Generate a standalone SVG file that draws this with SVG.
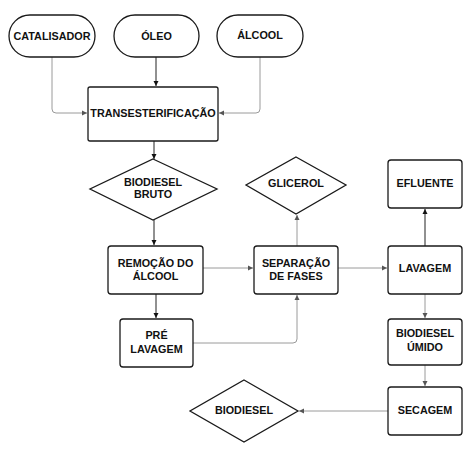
<svg xmlns="http://www.w3.org/2000/svg" width="472" height="451" viewBox="0 0 472 451">
<defs>
<marker id="ag" markerWidth="6" markerHeight="6" refX="5" refY="3" orient="auto" markerUnits="userSpaceOnUse"><path d="M0,0.5 L5,3 L0,5.5 Z" fill="#555"/></marker>
<marker id="ak" markerWidth="6" markerHeight="6" refX="5" refY="3" orient="auto" markerUnits="userSpaceOnUse"><path d="M0,0.5 L5,3 L0,5.5 Z" fill="#111"/></marker>
</defs>
<style>
.n{fill:#fff;stroke:#1a1a1a;stroke-width:1.3}
.t{font-family:"Liberation Sans",Arial,sans-serif;font-weight:bold;font-size:10.8px;fill:#111;text-anchor:middle}
.cg{fill:none;stroke:#9a9a9a;stroke-width:1;marker-end:url(#ag)}
.ck{fill:none;stroke:#222;stroke-width:1;marker-end:url(#ak)}
</style>
<rect width="472" height="451" fill="#fff"/>
<g id="connectors">
<path class="cg" d="M52,57 V109 Q52,113 56,113 H87"/>
<path class="ck" d="M156,57 V86"/>
<path class="cg" d="M260,57 V109 Q260,113 256,113 H219"/>
<path class="ck" d="M154,141 V159"/>
<path class="ck" d="M154,220 V245"/>
<path class="ck" d="M156,294 V318"/>
<path class="cg" d="M203,268 H253"/>
<path class="cg" d="M297,246 V215"/>
<path class="cg" d="M193,343 H293 Q297,343 297,339 V295"/>
<path class="cg" d="M338,268 H387"/>
<path class="ck" d="M425,246 V209"/>
<path class="cg" d="M425,294 V318"/>
<path class="cg" d="M425,365 V386"/>
<path class="cg" d="M388,411 H299"/>
</g>
<g id="catalisador"><rect class="n" x="9" y="15" width="86" height="42" rx="21"/><text class="t" x="52" y="40">CATALISADOR</text></g>
<g id="oleo"><rect class="n" x="114" y="15" width="85" height="42" rx="21"/><text class="t" x="156.5" y="40">ÓLEO</text></g>
<g id="alcool"><rect class="n" x="217" y="15" width="86" height="42" rx="21"/><text class="t" x="260" y="39">ÁLCOOL</text></g>
<g id="transesterificacao"><rect class="n" x="88" y="87" width="130" height="54" rx="2"/><text class="t" x="153" y="117">TRANSESTERIFICAÇÃO</text></g>
<g id="biodiesel-bruto"><polygon class="n" points="153,159 217,189 153,220 90,189"/><text class="t" x="153" y="186">BIODIESEL</text><text class="t" x="153" y="198">BRUTO</text></g>
<g id="remocao"><rect class="n" x="108" y="246" width="95" height="48" rx="3"/><text class="t" x="155.5" y="267">REMOÇÃO  DO</text><text class="t" x="155.5" y="280">ÁLCOOL</text></g>
<g id="pre-lavagem"><rect class="n" x="120" y="319" width="73" height="48" rx="3"/><text class="t" x="156.5" y="339">PRÉ</text><text class="t" x="156.5" y="353">LAVAGEM</text></g>
<g id="glicerol"><polygon class="n" points="296,157 346,185 296,214 246,185"/><text class="t" x="296" y="187">GLICEROL</text></g>
<g id="separacao"><rect class="n" x="254" y="246" width="84" height="48" rx="3"/><text class="t" x="296" y="267">SEPARAÇÃO</text><text class="t" x="296" y="280">DE FASES</text></g>
<g id="efluente"><rect class="n" x="388" y="160" width="74" height="48" rx="3"/><text class="t" x="425" y="187">EFLUENTE</text></g>
<g id="lavagem"><rect class="n" x="388" y="246" width="74" height="48" rx="3"/><text class="t" x="425" y="272">LAVAGEM</text></g>
<g id="biodiesel-umido"><rect class="n" x="388" y="319" width="74" height="46" rx="3"/><text class="t" x="425" y="337">BIODIESEL</text><text class="t" x="425" y="351">ÚMIDO</text></g>
<g id="secagem"><rect class="n" x="388" y="387" width="74" height="48" rx="3"/><text class="t" x="425" y="414">SECAGEM</text></g>
<g id="biodiesel"><polygon class="n" points="244,380 298,411 244,442 190,411"/><text class="t" x="244" y="414">BIODIESEL</text></g>
</svg>
